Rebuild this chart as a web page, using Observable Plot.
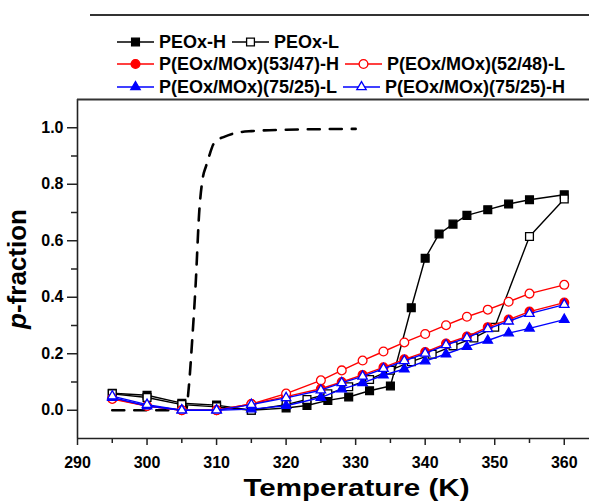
<!DOCTYPE html>
<html>
<head>
<meta charset="utf-8">
<script src="https://cdn.jsdelivr.net/npm/d3@7"></script>
<script src="https://cdn.jsdelivr.net/npm/@observablehq/plot@0.6"></script>
<style>
  body { margin: 0; background: #fff; font-family: "Liberation Sans", Arial, sans-serif; }
  #legend { position: relative; width: 589px; height: 98px; }
  #legend .rule { position: absolute; left: 90px; right: 0; top: 14px; border-top: 2px solid #333; }
  #legend .row { position: absolute; left: 117px; display: flex; align-items: center; gap: 6px; height: 20px; }
  #legend .item { display: flex; align-items: center; font-weight: bold; font-size: 18px; color: #000; white-space: nowrap; }
  #legend .item svg { margin-right: 5px; }
  #chart svg { display: block; }
</style>
</head>
<body>
<div id="legend"><div class="rule"></div></div>
<div id="chart"></div>
<script>
// Series names as shown in the legend
const seriesNames = [
  "PEOx-H", "PEOx-L",
  "P(EOx/MOx)(53/47)-H", "P(EOx/MOx)(52/48)-L",
  "P(EOx/MOx)(75/25)-L", "P(EOx/MOx)(75/25)-H"
];

// PEOx homopolymer, high molar mass (filled squares)
const peoxHTemp = [295, 300, 305, 310, 315, 320, 323, 326, 329, 332, 335, 338, 340, 342, 344, 346, 349, 352, 355, 360];
const peoxHFrac = [0.060, 0.053, 0.025, 0.018, 0.000, 0.008, 0.017, 0.035, 0.047, 0.069, 0.086, 0.363, 0.538, 0.624, 0.659, 0.690, 0.710, 0.730, 0.745, 0.763];

// PEOx homopolymer, low molar mass (open squares)
const peoxLTemp = [295, 300, 305, 310, 315, 320, 323, 326, 329, 332, 335, 338, 341, 344, 347, 350, 355, 360];
const peoxLFrac = [0.058, 0.045, 0.020, 0.012, 0.000, 0.020, 0.038, 0.058, 0.083, 0.109, 0.142, 0.172, 0.198, 0.228, 0.256, 0.294, 0.615, 0.748];

// Copolymers share one temperature grid
const coTemp = [295, 300, 305, 310, 315, 320, 325, 328, 331, 334, 337, 340, 343, 346, 349, 352, 355, 360];
const co5347HFrac = [0.042, 0.015, 0.000, 0.000, 0.022, 0.048, 0.076, 0.100, 0.125, 0.152, 0.180, 0.206, 0.236, 0.261, 0.294, 0.321, 0.349, 0.381];
const co5248LFrac = [0.040, 0.015, 0.000, 0.000, 0.022, 0.059, 0.106, 0.141, 0.176, 0.208, 0.240, 0.270, 0.301, 0.331, 0.356, 0.384, 0.413, 0.444];
const co7525LFrac = [0.045, 0.015, 0.000, 0.000, 0.004, 0.016, 0.045, 0.075, 0.097, 0.124, 0.146, 0.174, 0.199, 0.225, 0.247, 0.273, 0.290, 0.321];
const co7525HFrac = [0.050, 0.020, 0.000, 0.000, 0.020, 0.044, 0.071, 0.097, 0.120, 0.147, 0.175, 0.201, 0.231, 0.256, 0.288, 0.315, 0.342, 0.374];

// Sharp transition curve (dashed)
const curveTemp = [295, 303, 305.6, 306, 306.5, 307, 307.5, 308, 308.5, 309, 309.5, 310, 311, 312.5, 315, 320, 325, 330];
const curveFrac = [0.000, 0.000, 0.000, 0.080, 0.250, 0.450, 0.700, 0.820, 0.865, 0.905, 0.940, 0.955, 0.967, 0.980, 0.988, 0.993, 0.995, 0.996];

// Axis ticks and titles
const xMajorTicks = [290, 300, 310, 320, 330, 340, 350, 360];
const xMinorTicks = [295, 305, 315, 325, 335, 345, 355];
const yMajorTicks = [0.0, 0.2, 0.4, 0.6, 0.8, 1.0];
const yMinorTicks = [0.1, 0.3, 0.5, 0.7, 0.9];
const xTitle = "Temperature (K)";
const yTitle = "p-fraction";

const RED = "#ff0000", BLUE = "#0000ff", BLACK = "#000000";

const zip = (xs, ys) => xs.map((t, i) => ({t, f: ys[i]}));

const series = [
  {name: seriesNames[0], data: zip(peoxHTemp, peoxHFrac), color: BLACK, symbol: "square", filled: true, r: 4.4},
  {name: seriesNames[1], data: zip(peoxLTemp, peoxLFrac), color: BLACK, symbol: "square", filled: false, r: 4.4},
  {name: seriesNames[2], data: zip(coTemp, co5347HFrac), color: RED, symbol: "circle", filled: true, r: 4.4},
  {name: seriesNames[3], data: zip(coTemp, co5248LFrac), color: RED, symbol: "circle", filled: false, r: 4.4},
  {name: seriesNames[4], data: zip(coTemp, co7525LFrac), color: BLUE, symbol: "triangle", filled: true, r: 3.5},
  {name: seriesNames[5], data: zip(coTemp, co7525HFrac), color: BLUE, symbol: "triangle", filled: false, r: 3.5}
];

const xDomain = [290, 363.63];
const yDomain = [-0.1, 1.1];

const marks = [
  Plot.line(zip(curveTemp, curveFrac), {x: "t", y: "f", stroke: BLACK, strokeWidth: 2.6, strokeDasharray: "12,10", curve: "monotone-x"})
];
for (const s of series) {
  marks.push(Plot.line(s.data, {x: "t", y: "f", stroke: s.color, strokeWidth: 1.4}));
  marks.push(Plot.dot(s.data, {x: "t", y: "f", symbol: () => s.symbol, r: s.r, stroke: s.color, strokeWidth: 1.3, fill: s.filled ? s.color : "white"}));
}
marks.push(
  // frame: left axis line, bottom axis line, top border
  Plot.ruleX([xDomain[0]], {stroke: "#222", strokeWidth: 1.6}),
  Plot.ruleY([yDomain[0]], {stroke: "#222", strokeWidth: 1.6}),
  Plot.ruleY([yDomain[1]], {stroke: "#333", strokeWidth: 2}),
  Plot.axisX({ticks: xMajorTicks, tickSize: 7, tickPadding: 11, tickFormat: d => d, label: null, fontSize: 16, strokeWidth: 1.5, stroke: "#222"}),
  Plot.axisX({ticks: xMinorTicks, tickSize: 5, tickFormat: () => "", label: null, strokeWidth: 1.5, stroke: "#222"}),
  Plot.axisY({ticks: yMajorTicks, tickSize: 10, tickPadding: 4, tickFormat: d3.format(".1f"), label: null, fontSize: 16, strokeWidth: 1.5, stroke: "#222"}),
  Plot.axisY({ticks: yMinorTicks, tickSize: 6, tickFormat: () => "", label: null, strokeWidth: 1.5, stroke: "#222"}),
  Plot.text([xTitle], {frameAnchor: "bottom", textAnchor: "middle", lineAnchor: "middle", dx: 23, dy: 50, fontSize: 23, fontWeight: "bold", fill: "#000"}),
  Plot.text([yTitle], {frameAnchor: "left", textAnchor: "middle", lineAnchor: "middle", rotate: -90, dx: -60, fontSize: 26, fontWeight: "bold", fill: "#000"})
);

const chart = Plot.plot({
  width: 589,
  height: 403,
  marginLeft: 77,
  marginRight: 0,
  marginTop: 1,
  marginBottom: 63,
  x: {domain: xDomain},
  y: {domain: yDomain},
  style: {fontFamily: "'Liberation Sans', Arial, sans-serif", fontSize: "16px", fontWeight: "bold", color: "#000", background: "white", overflow: "visible"},
  marks
});
document.getElementById("chart").appendChild(chart);

const texts = d3.select(chart).selectAll("text");

// Italic "p" in the y title
texts.filter(function () { return this.textContent === yTitle; }).each(function () {
  const el = d3.select(this);
  el.text(null);
  el.append("tspan").attr("font-style", "italic").text(yTitle.slice(0, 1));
  el.append("tspan").text(yTitle.slice(1));
});

// Wide bold x title
texts.filter(function () { return this.textContent === xTitle; })
  .attr("textLength", 226)
  .attr("lengthAdjust", "spacingAndGlyphs");

// Legend rows with line + marker swatches
const legendRows = [[0, 1], [2, 3], [4, 5]];
const rowCenters = [42, 64, 87];
const legend = d3.select("#legend");
legendRows.forEach((row, ri) => {
  const rowDiv = legend.append("div").attr("class", "row").style("top", (rowCenters[ri] - 10) + "px");
  row.forEach(si => {
    const s = series[si];
    const item = rowDiv.append("div").attr("class", "item");
    const sw = item.append("svg").attr("width", 37).attr("height", 20);
    sw.append("line").attr("x1", 0).attr("x2", 37).attr("y1", 10).attr("y2", 10).attr("stroke", s.color).attr("stroke-width", 1.4);
    const fill = s.filled ? s.color : "white";
    const symType = s.symbol === "square" ? d3.symbolSquare : s.symbol === "circle" ? d3.symbolCircle : d3.symbolTriangle;
    sw.append("path")
      .attr("d", d3.symbol(symType, Math.PI * s.r * s.r)())
      .attr("transform", "translate(18.5,10)")
      .attr("fill", fill).attr("stroke", s.color).attr("stroke-width", 1.3);
    item.append("span").text(s.name);
  });
});
</script>
</body>
</html>
